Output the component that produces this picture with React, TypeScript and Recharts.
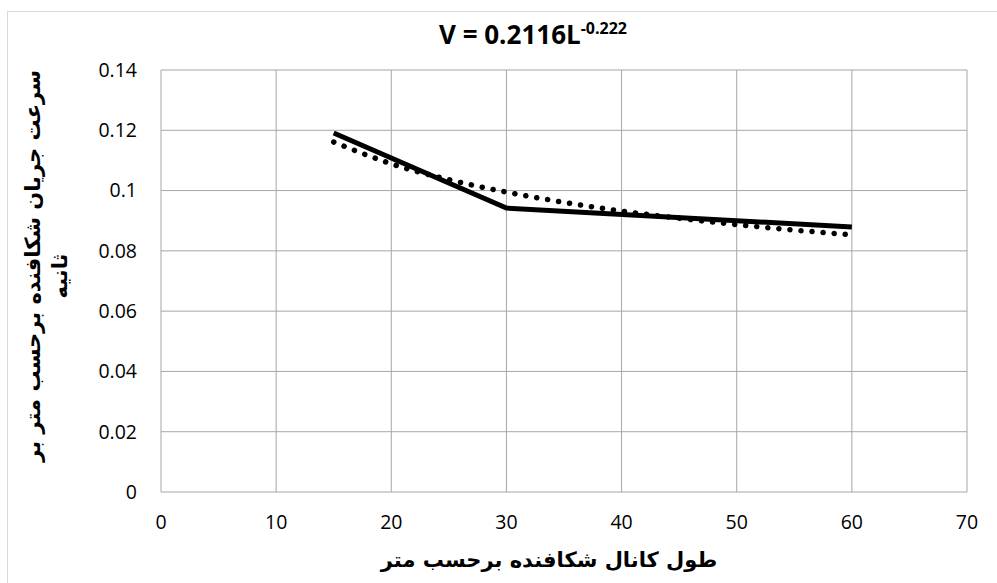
import React from 'react';
import { CartesianGrid, Line, LineChart, XAxis, YAxis } from 'recharts';

// measured flow speed against channel length
const lengths = [15, 30, 60];
const speeds = [0.1191, 0.0942, 0.0879];

// power trendline V = 0.2116 L^-0.222, sampled along the curve
const trendLengths = [15, 20, 25, 30, 35, 40, 45, 50, 55, 60];
const trendSpeeds = [0.1161, 0.1089, 0.1036, 0.0995, 0.0961, 0.0932, 0.0908, 0.0887, 0.0869, 0.0853];

const xTicks = [0, 10, 20, 30, 40, 50, 60, 70];
const yTicks = [0, 0.02, 0.04, 0.06, 0.08, 0.1, 0.12, 0.14];

const title = 'V = 0.2116L';
const titleExp = '-0.222';
const xTitle = 'طول کانال شکافنده برحسب متر';
const yTitleLine1 = 'سرعت جریان شکافنده برحسب متر بر';
const yTitleLine2 = 'ثانیه';

const measured = lengths.map((x, i) => ({ x, v: speeds[i] }));
const trend = trendLengths.map((x, i) => ({ x, v: trendSpeeds[i] }));

const tickStyle = { fontFamily: '"Open Sans", sans-serif', fontSize: 19.5, fill: '#000' };
const arabicFont = '"DejaVu Sans", sans-serif';

export default function App() {
  return (
    <div
      style={{
        position: 'absolute',
        left: 0,
        top: 0,
        width: 997,
        height: 583,
        overflow: 'hidden',
        background: '#fff',
      }}
    >
      <div
        style={{
          position: 'absolute',
          left: 7,
          top: 11,
          width: 1000,
          height: 600,
          border: '1px solid #d9d9d9',
        }}
      />
      <div
        style={{
          position: 'absolute',
          left: 0,
          top: 17,
          width: 1066,
          textAlign: 'center',
          fontFamily: '"Open Sans", sans-serif',
          fontWeight: 700,
          fontSize: 26,
          lineHeight: '34px',
          color: '#000',
        }}
      >
        {title}
        <sup style={{ fontSize: 16, verticalAlign: 'top', position: 'relative', top: -6 }}>{titleExp}</sup>
      </div>
      <div style={{ position: 'absolute', left: 0, top: 0 }}>
        <LineChart width={997} height={583} margin={{ top: 70, right: 30, bottom: 61, left: 101 }}>
          <CartesianGrid stroke="#a6a6a6" strokeWidth={1} />
          <XAxis
            dataKey="x"
            type="number"
            domain={[0, 70]}
            ticks={xTicks}
            allowDuplicatedCategory={false}
            axisLine={false}
            tickLine={false}
            tickSize={6}
            tickMargin={17}
            height={30}
            tick={tickStyle}
          />
          <YAxis
            type="number"
            domain={[0, 0.14]}
            ticks={yTicks}
            axisLine={false}
            tickLine={false}
            tickSize={6}
            tickMargin={18}
            width={60}
            tick={tickStyle}
          />
          <Line
            data={trend}
            dataKey="v"
            type="monotone"
            stroke="#000"
            strokeWidth={5.5}
            strokeDasharray="0.1 11"
            strokeLinecap="round"
            dot={false}
            activeDot={false}
            isAnimationActive={false}
          />
          <Line
            data={measured}
            dataKey="v"
            type="linear"
            stroke="#000"
            strokeWidth={5}
            dot={false}
            activeDot={false}
            isAnimationActive={false}
          />
        </LineChart>
      </div>
      <div
        style={{
          position: 'absolute',
          left: 0,
          top: 544,
          width: 1098,
          textAlign: 'center',
          direction: 'rtl',
          fontFamily: arabicFont,
          fontWeight: 700,
          fontSize: 21,
          lineHeight: '32px',
          color: '#000',
        }}
      >
        {xTitle}
      </div>
      <div
        style={{
          position: 'absolute',
          left: 33 - 200,
          top: 266 - 16,
          width: 400,
          height: 32,
          transform: 'rotate(-90deg)',
          textAlign: 'center',
          direction: 'rtl',
          fontFamily: arabicFont,
          fontWeight: 700,
          fontSize: 21,
          lineHeight: '32px',
          color: '#000',
          whiteSpace: 'nowrap',
        }}
      >
        {yTitleLine1}
      </div>
      <div
        style={{
          position: 'absolute',
          left: 60 - 100,
          top: 276 - 16,
          width: 200,
          height: 32,
          transform: 'rotate(-90deg)',
          textAlign: 'center',
          direction: 'rtl',
          fontFamily: arabicFont,
          fontWeight: 700,
          fontSize: 21,
          lineHeight: '32px',
          color: '#000',
          whiteSpace: 'nowrap',
        }}
      >
        {yTitleLine2}
      </div>
    </div>
  );
}
